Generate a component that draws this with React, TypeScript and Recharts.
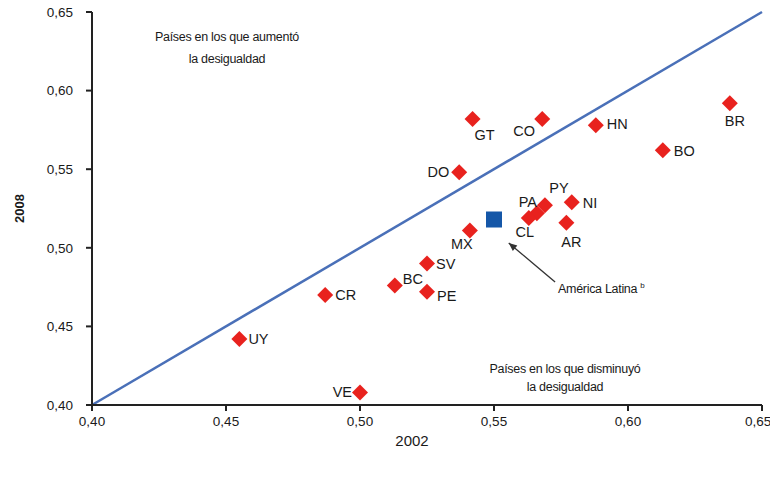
import React from 'react'
import { ScatterChart, Scatter, XAxis, YAxis, ReferenceLine } from 'recharts'

const COUNTRIES = ['UY', 'VE', 'CR', 'BC', 'SV', 'PE', 'MX', 'DO', 'GT', 'CO', 'HN', 'BR', 'BO', 'NI', 'AR', 'PA', 'PY', 'CL']
const GINI_2002 = [0.455, 0.5, 0.487, 0.513, 0.525, 0.525, 0.541, 0.537, 0.542, 0.568, 0.588, 0.638, 0.613, 0.579, 0.577, 0.566, 0.569, 0.563]
const GINI_2008 = [0.442, 0.408, 0.47, 0.476, 0.49, 0.472, 0.511, 0.548, 0.582, 0.582, 0.578, 0.592, 0.562, 0.529, 0.516, 0.522, 0.527, 0.519]

const LATAM_2002 = [0.55]
const LATAM_2008 = [0.518]

const TICKS = [0.4, 0.45, 0.5, 0.55, 0.6, 0.65]

const FONT = "'Liberation Sans', Arial, sans-serif"

// label placement around each marker (anchor, dx, dy)
const LABEL_POS: Record<string, [string, number, number]> = {
  UY: ['start', 9, 5],
  VE: ['end', -8, 5],
  CR: ['start', 10, 5],
  BC: ['start', 8, -2],
  SV: ['start', 9, 5],
  PE: ['start', 10, 9],
  MX: ['middle', -8, 18],
  DO: ['end', -10, 5],
  GT: ['middle', 12, 21],
  CO: ['middle', -18, 17],
  HN: ['start', 11, 4],
  BR: ['middle', 5, 23],
  BO: ['start', 11, 6],
  NI: ['start', 11, 6],
  AR: ['middle', 5, 24],
  PA: ['middle', -9, -6],
  PY: ['middle', 14, -12],
  CL: ['middle', -4, 19]
}

const countryData = COUNTRIES.map((code, i) => ({ code, x: GINI_2002[i], y: GINI_2008[i] }))
const latamData = LATAM_2002.map((x, i) => ({ x, y: LATAM_2008[i] }))

const fmt = (v: number) => v.toFixed(2).replace('.', ',')

const Diamond = (props: any) => {
  const { cx, cy, payload } = props
  const r = 8
  const [anchor, dx, dy] = LABEL_POS[payload.code] || ['start', 10, 5]
  return (
    <g>
      <polygon points={`${cx},${cy - r} ${cx + r},${cy} ${cx},${cy + r} ${cx - r},${cy}`} fill="#e8221e" />
      <text x={cx + dx} y={cy + dy} textAnchor={anchor as any} fontSize={14.5} fontFamily={FONT} fill="#1a1a1a">
        {payload.code}
      </text>
    </g>
  )
}

const Square = (props: any) => {
  const { cx, cy } = props
  return <rect x={cx - 8} y={cy - 8} width={16} height={16} fill="#1557a8" />
}

const Arrow = (props: any) => {
  const { x1, y1, x2, y2 } = props
  const ang = Math.atan2(y2 - y1, x2 - x1)
  const L = 9
  const a1 = ang + Math.PI - 0.4
  const a2 = ang + Math.PI + 0.4
  return (
    <g>
      <line x1={x1} y1={y1} x2={x2} y2={y2} stroke="#333" strokeWidth={1.3} />
      <polygon
        points={`${x2},${y2} ${x2 + L * Math.cos(a1)},${y2 + L * Math.sin(a1)} ${x2 + L * Math.cos(a2)},${y2 + L * Math.sin(a2)}`}
        fill="#333"
      />
    </g>
  )
}

const note: React.CSSProperties = {
  position: 'absolute',
  fontFamily: FONT,
  fontSize: 12.5,
  color: '#1a1a1a',
  textAlign: 'center',
  lineHeight: '22px',
  letterSpacing: '-0.3px'
}

export default function App() {
  return (
    <div style={{ position: 'absolute', left: 0, top: 0, width: 770, height: 479, background: '#fff' }}>
      <ScatterChart width={770} height={479} margin={{ top: 12, right: 8, bottom: 0, left: 0 }}>
        <XAxis
          type="number"
          dataKey="x"
          domain={[0.4, 0.65]}
          ticks={TICKS}
          tickFormatter={fmt}
          height={74}
          stroke="#222"
          strokeWidth={2}
          tickMargin={5}
          tick={{ fontSize: 13.5, fill: '#1a1a1a', fontFamily: FONT }}
          allowDataOverflow
          label={{
            content: ({ viewBox }: any) => (
              <text x={viewBox.x + viewBox.width / 2 - 15} y={viewBox.y + 41} textAnchor="middle" fontSize={15} fontFamily={FONT} fill="#1a1a1a">
                2002
              </text>
            )
          }}
        />
        <YAxis
          type="number"
          dataKey="y"
          domain={[0.4, 0.65]}
          ticks={TICKS}
          tickFormatter={fmt}
          width={92}
          stroke="#222"
          strokeWidth={2}
          tickMargin={13}
          tick={{ fontSize: 13.5, fill: '#1a1a1a', fontFamily: FONT }}
          allowDataOverflow
          label={{
            content: ({ viewBox }: any) => {
              const cy = viewBox.y + viewBox.height / 2
              return (
                <text x={24} y={cy} transform={`rotate(-90 24 ${cy})`} textAnchor="middle" fontSize={13} fontWeight="bold" fontFamily={FONT} fill="#1a1a1a">
                  2008
                </text>
              )
            }
          }}
        />
        <ReferenceLine
          segment={[{ x: 0.4, y: 0.4 }, { x: 0.65, y: 0.65 }]}
          stroke="#4a70b8"
          strokeWidth={2.5}
          ifOverflow="visible"
        />
        <ReferenceLine
          segment={[{ x: 0.5728, y: 0.4782 }, { x: 0.5555, y: 0.5031 }]}
          ifOverflow="visible"
          shape={(p: any) => <Arrow {...p} />}
        />
        <Scatter data={countryData} shape={(p: any) => <Diamond {...p} />} isAnimationActive={false} />
        <Scatter data={latamData} shape={(p: any) => <Square {...p} />} isAnimationActive={false} />
      </ScatterChart>
      <div style={{ ...note, left: 132, top: 26, width: 190 }}>
        Países en los que aumentó
        <br />
        la desigualdad
      </div>
      <div style={{ ...note, left: 465, top: 360, width: 200, lineHeight: '18px' }}>
        Países en los que disminuyó
        <br />
        la desigualdad
      </div>
      <div style={{ ...note, left: 558, top: 275, textAlign: 'left' }}>
        América Latina <sup style={{ fontSize: 8 }}>b</sup>
      </div>
    </div>
  )
}
